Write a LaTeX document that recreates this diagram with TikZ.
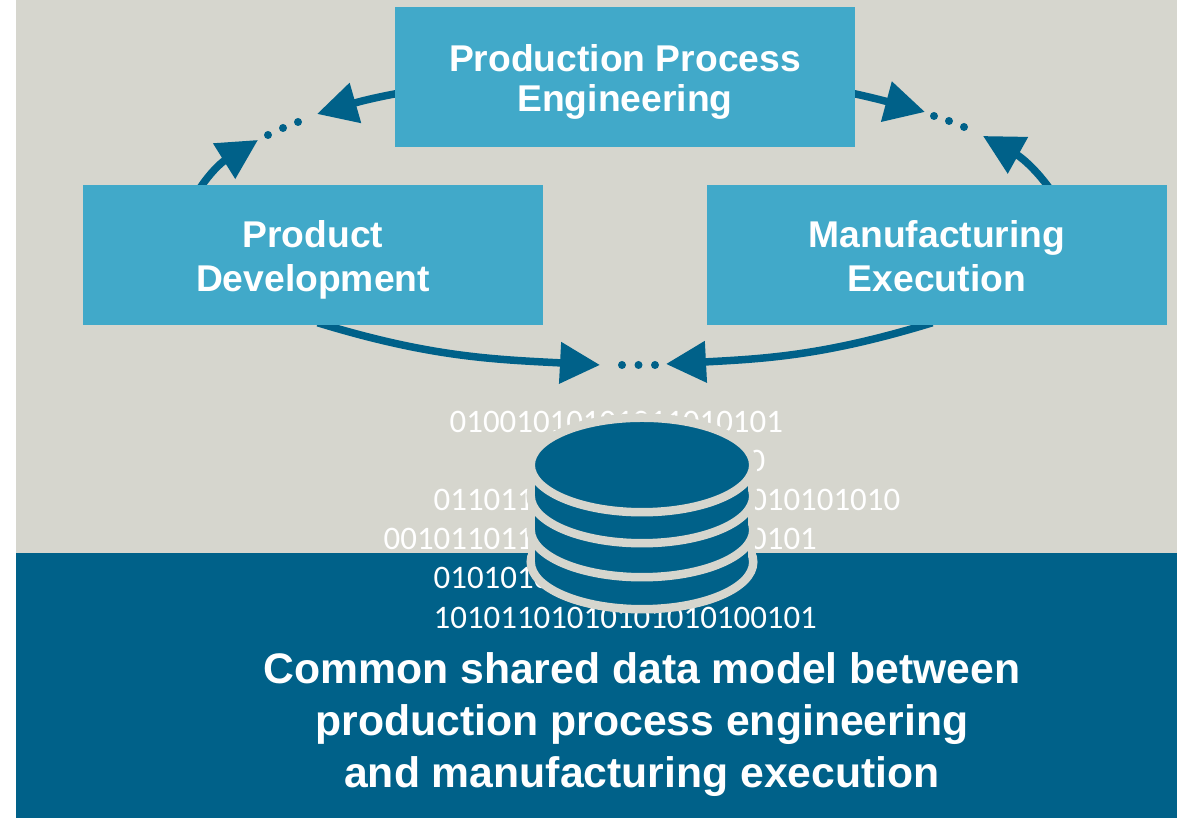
\documentclass[tikz,border=0pt]{standalone}
\usepackage{fontspec}
\setmainfont{Liberation Sans}
\newfontfamily\bitsfont{Carlito}
\usetikzlibrary{arrows.meta,backgrounds}
\definecolor{stone}{RGB}{214,214,206}
\definecolor{deepblue}{RGB}{0,97,137}
\definecolor{skyblue}{RGB}{65,169,201}
\newcommand{\upline}{\rule{0pt}{10.6pt}}
\newcommand{\downline}{\rule[-2.3pt]{0pt}{2.3pt}}
\tikzset{>=stealth}
\tikzset{%
    stagebox/.style={%
        fill=skyblue,
        text=white,
        minimum width=4.6cm,
        minimum height=1.4cm,
        align=center,
        inner sep=0pt,
        font=\fontsize{10.6}{#1}\selectfont\bfseries
    },
    flow/.style={%
        draw=deepblue,
        line width=0.075cm,
        shorten <=-0.1cm,
        -{Triangle[length=4mm,width=4mm]}
    },
    dotmark/.style={%
        circle,
        fill=deepblue,
        inner sep=0pt,
        minimum size=0.08cm
    },
    bits/.style={%
        text=white,
        anchor=west,
        inner sep=0pt,
        font=\fontsize{9.35}{10}\selectfont\bitsfont
    }
}

\begin{document}
\begin{tikzpicture}
    \useasboundingbox (0,0) rectangle (11.77,8.18);

    % stages
    \node[stagebox=11.4] (engineering) at (6.25,7.41) {\upline Production Process\\Engineering\downline};
    \node[stagebox=12.5] (development) at (3.13,5.63) {\upline Product\\Development\downline};
    \node[stagebox=12.5] (execution) at (9.37,5.63) {\upline Manufacturing\\Execution\downline};

    % free arrow ends
    \coordinate (tipdevup) at (2.58,6.78);
    \coordinate (tipengleft) at (3.17,7.04);
    \coordinate (tipengright) at (9.25,7.06);
    \coordinate (tipexeup) at (9.83,6.82);
    \coordinate (tipdevdown) at (6.00,4.53);
    \coordinate (tipexedown) at (6.66,4.54);

    \begin{scope}[on background layer]
        \fill[stone] (0.16,2.65) rectangle (11.77,8.18);
        \fill[deepblue] (0.16,0) rectangle (11.77,2.65);
        \draw[flow] ([xshift=1.2cm]development.north west) to[out=58,in=212] (tipdevup);
        \draw[flow] ([yshift=-0.17cm]engineering.west) to[out=190,in=16] (tipengleft);
        \draw[flow] ([yshift=-0.17cm]engineering.east) to[out=-12,in=165] (tipengright);
        \draw[flow] ([xshift=-1.21cm]execution.north east) to[out=125,in=-29] (tipexeup);
        \draw[flow] ([xshift=2.45cm]development.south west) to[out=-17,in=177] (tipdevdown);
        \draw[flow] ([xshift=-2.45cm]execution.south east) to[out=-163,in=3] (tipexedown);
    \end{scope}

    % dots
    \foreach \x/\y [count=\n] in {2.68/6.83,2.83/6.90,2.98/6.96,9.34/7.02,9.49/6.97,9.64/6.91,6.22/4.53,6.385/4.53,6.55/4.53}
        \node[dotmark] (dot\n) at (\x,\y) {};

    % digits behind the drum
    \node[bits] (row1) at (4.49,3.96) {01001010101011010101};
    \node[bits,anchor=east] (row2) at (7.66,3.57) {0101010101010};
    \node[bits] (row3) at (4.33,3.18) {0110110101010101010010101010};
    \node[bits] (row4) at (3.83,2.79) {00101101101010101101010101};
    \node[bits] (row5) at (4.33,2.40) {01010101010};
    \node[bits] (row6) at (4.33,2.00) {10101101010101010100101};

    % drum
    \fill[stone] (6.415,2.56) ellipse (1.145 and 0.51);
    \fill[stone] (5.28,2.56) rectangle (7.55,3.53);
    \foreach \c/\u in {2.56/2.88,2.88/3.22,3.22/3.53}{
        \filldraw[deepblue,draw=stone,line width=0.085cm] (6.42,\c) ellipse (1.1125 and 0.4725);
        \fill[deepblue] (5.35,\c) rectangle (7.48,\u);
    }
    \filldraw[deepblue,draw=stone,line width=0.085cm] (6.42,3.53) ellipse (1.1125 and 0.4725);

    \node[text=white,align=center,inner sep=0pt,font=\fontsize{12.15}{14.8}\selectfont\bfseries] (caption) at (6.42,0.93)
        {Common shared data model between\\production process engineering\\and manufacturing execution};
\end{tikzpicture}
\end{document}
